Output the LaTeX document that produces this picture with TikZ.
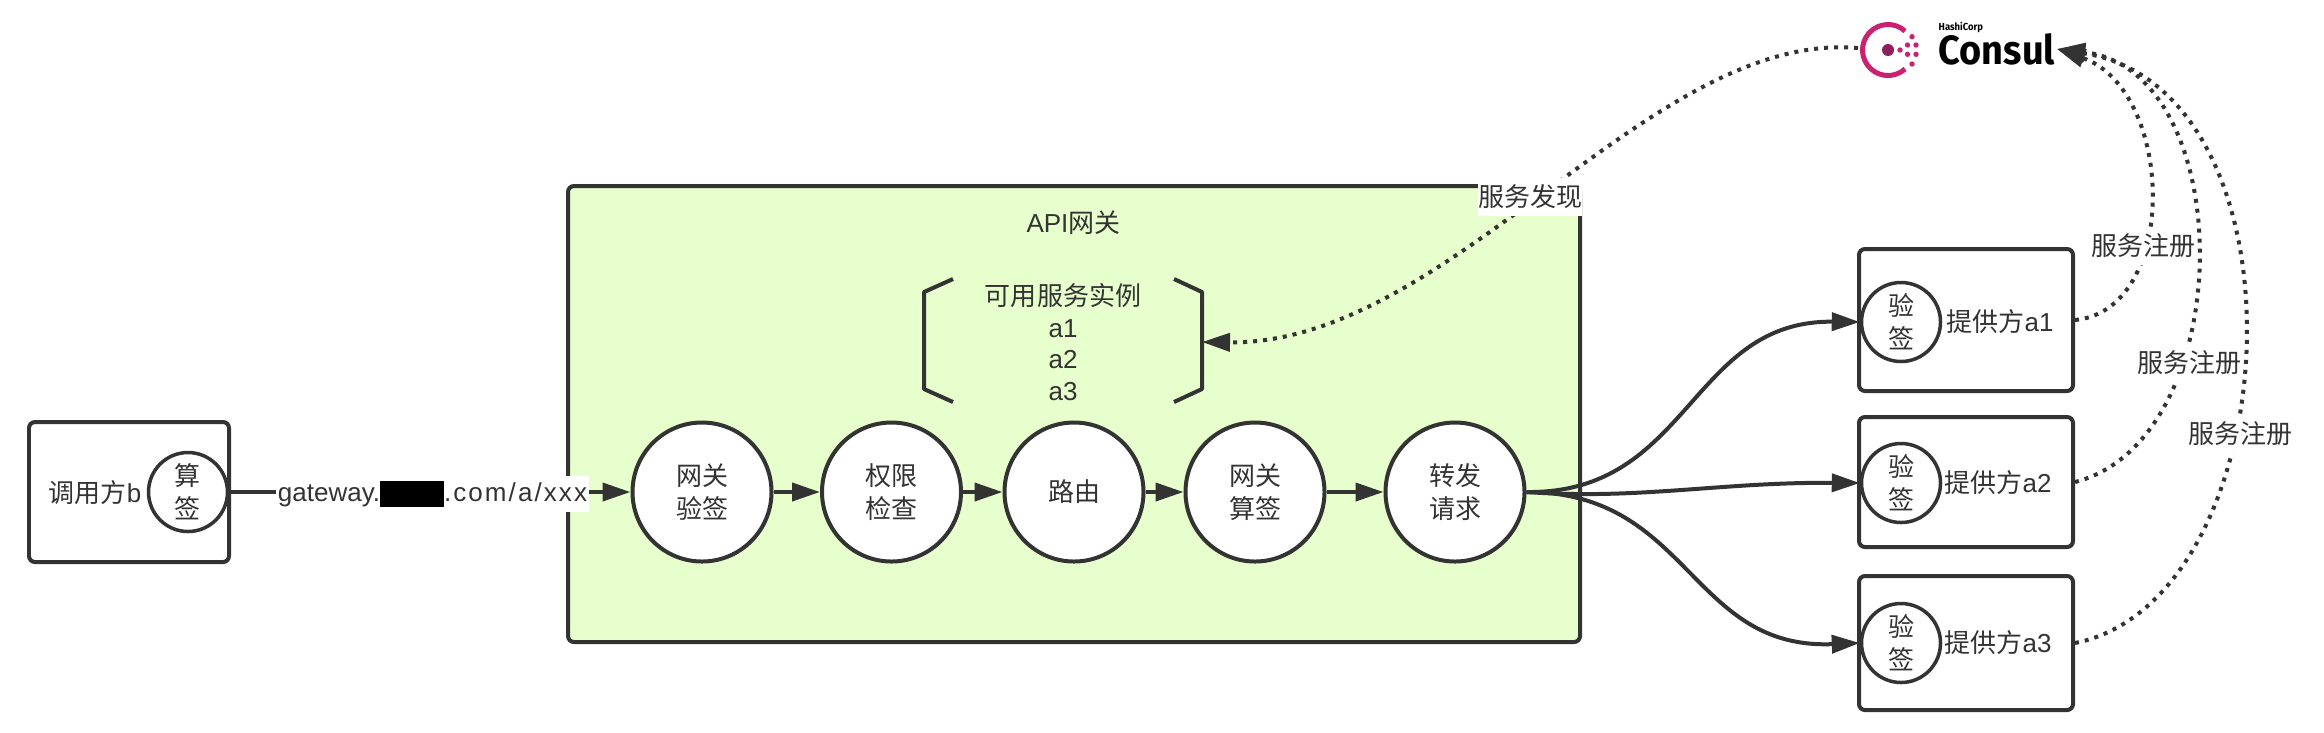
\documentclass[tikz,border=0pt]{standalone}
\usepackage{fontspec}
\usetikzlibrary{arrows.meta}
\setmainfont{Liberation Sans}
\newfontfamily\cjk{Noto Sans CJK SC}
\newfontfamily\urlfont[LetterSpace=8]{Liberation Sans}
\newfontfamily\logofont[FakeStretch=0.93]{Fira Sans}
\definecolor{inkgray}{HTML}{333333}
\definecolor{gwgreen}{HTML}{E6FFCC}
\definecolor{logopink}{HTML}{CA2171}
\definecolor{logodark}{HTML}{8E1F5C}
\begin{document}
\begin{tikzpicture}[font=\fontsize{7.4}{8.9}\selectfont, text=inkgray,
    >={Triangle[length=2.8mm,width=1.8mm]},
    edge/.style={draw=inkgray, line width=0.04cm, ->},
    dots/.style={draw=inkgray, line width=0.04cm, dash pattern=on 0.04cm off 0.06cm, ->},
    box/.style={draw=inkgray, line width=0.04cm, fill=white, rounded corners=0.06cm},
    stepnode/.style={circle, draw=inkgray, line width=0.04cm, fill=white, minimum size=1.39cm, inner sep=0pt, align=center, font=\cjk\fontsize{7.4}{9.3}\selectfont},
    signnode/.style={circle, draw=inkgray, line width=0.035cm, fill=white, minimum size=0.79cm, inner sep=0pt, align=center, font=\cjk\fontsize{7.4}{9.3}\selectfont},
    tag/.style={fill=white, inner sep=0pt, minimum width=1.04cm, minimum height=0.38cm, font=\cjk\fontsize{7.4}{8.9}\selectfont}]
  \useasboundingbox (0,0) rectangle (23.24,-7.32);

  % Boxes
  \node[box, minimum width=2cm, minimum height=1.4cm] (caller) at (1.29,-4.92) {};
  \node[box, fill=gwgreen, minimum width=10.12cm, minimum height=4.56cm] (gateway) at (10.74,-4.14) {};
  \node[box, minimum width=2.14cm, minimum height=1.42cm] (prova) at (19.66,-3.20) {};
  \node[box, minimum width=2.14cm, minimum height=1.30cm] (provb) at (19.66,-4.82) {};
  \node[box, minimum width=2.14cm, minimum height=1.34cm] (provc) at (19.66,-6.43) {};

  \node (callertxt) at (0.95,-4.93) {{\cjk 调用方}b};
  \node[signnode] (sign) at (1.88,-4.92) {算\\签};
  \node[signnode] (checka) at (19.01,-3.22) {验\\签};
  \node[signnode] (checkb) at (19.01,-4.83) {验\\签};
  \node[signnode] (checkc) at (19.01,-6.43) {验\\签};
  \node (txta) at (20.00,-3.22) {{\cjk 提供方}a1};
  \node (txtb) at (19.98,-4.83) {{\cjk 提供方}a2};
  \node (txtc) at (19.98,-6.43) {{\cjk 提供方}a3};

  % Gateway steps
  \node[stepnode] (verify) at (7.02,-4.92) {网关\\验签};
  \node[stepnode] (auth) at (8.915,-4.92) {权限\\检查};
  \node[stepnode] (route) at (10.74,-4.92) {路由};
  \node[stepnode] (resign) at (12.55,-4.92) {网关\\算签};
  \node[stepnode] (forward) at (14.55,-4.92) {转发\\请求};

  \node (gwtitle) at (10.735,-2.23) {API{\cjk 网关}};
  \node[align=center, font=\fontsize{7.4}{9}\selectfont] (inst) at (10.63,-3.42) {{\cjk 可用服务实例}\\a1\\a2\\a3};
  \coordinate (instr) at (12.02,-3.42);
  \draw[inkgray, line width=0.04cm, line join=round] (9.53,-2.79) -- (9.24,-2.92) -- (9.24,-3.89) -- (9.53,-4.02);
  \draw[inkgray, line width=0.04cm, line join=round] (11.74,-2.79) -- (12.02,-2.92) -- (12.02,-3.89) -- (11.74,-4.02);

  % Logo
  \draw[logopink, line width=0.05cm] (18.88,-0.5) ++(48:0.255) arc (48:312:0.255);
  \fill[logodark] (18.88,-0.5) circle (0.06);
  \foreach \px/\py in {19.0/0.5, 19.12/0.367, 19.075/0.45, 19.16/0.45, 19.075/0.543, 19.16/0.543, 19.12/0.64}
    \fill[logopink] (\px,-\py) circle (0.027);
  \node[anchor=base west, inner sep=0pt, text=black, font=\logofont\bfseries\fontsize{2.9}{3}\selectfont] (hashi) at (19.38,-0.3) {HashiCorp};
  \node[anchor=base west, inner sep=0pt, text=black, font=\logofont\bfseries\fontsize{11.6}{12}\selectfont] (consul) at (19.38,-0.64) {Consul};
  \coordinate (consulw) at (18.58,-0.48);
  \coordinate (consule) at (20.57,-0.49);

  % Calls
  \draw[edge] (sign.east) -- (verify.west);
  \node[fill=white, inner sep=0pt, minimum width=3.13cm, minimum height=0.36cm] (url) at (4.325,-4.94) {gateway.\textcolor{black}{\rule[-0.05cm]{0.64cm}{0.26cm}}{\urlfont .com/a/xxx}};
  \draw[edge] (verify) -- (auth);
  \draw[edge] (auth) -- (route);
  \draw[edge] (route) -- (resign);
  \draw[edge] (resign) -- (forward);
  \draw[edge] (forward.east) .. controls (16.90,-4.94) and (16.90,-3.20) .. (checka.west);
  \draw[edge] (forward.east) .. controls (16.40,-5.00) and (17.20,-4.82) .. (checkb.west);
  \draw[edge] (forward.east) .. controls (16.90,-4.92) and (16.90,-6.50) .. (checkc.west);

  % Discovery and registration
  \draw[dots] (consulw) .. controls (16.50,-0.30) and (14.50,-3.45) .. (instr);
  \node[tag] (found) at (15.30,-1.965) {服务发现};
  \draw[dots] (prova.east) .. controls (21.80,-3.10) and (21.75,-0.90) .. (consule);
  \node[tag] (rega) at (21.43,-2.46) {服务注册};
  \draw[dots] (provb.east) .. controls (22.40,-4.40) and (22.40,-0.70) .. (consule);
  \node[tag] (regb) at (21.89,-3.63) {服务注册};
  \draw[dots] (provc.east) .. controls (22.90,-6.00) and (23.15,-0.90) .. (consule);
  \node[tag] (regc) at (22.40,-4.34) {服务注册};
\end{tikzpicture}
\end{document}
